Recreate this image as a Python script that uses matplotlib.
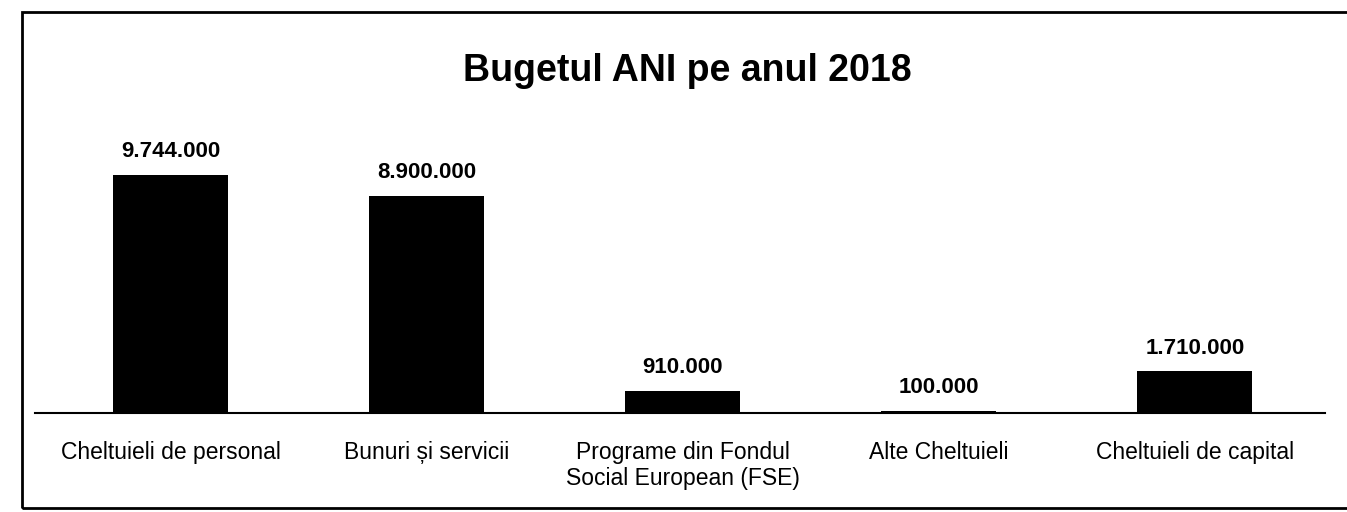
import numpy as np
import matplotlib.pyplot as plt
from matplotlib.patches import Rectangle

categories = ["Cheltuieli de personal", "Bunuri și servicii",
              "Programe din Fondul\nSocial European (FSE)", "Alte Cheltuieli",
              "Cheltuieli de capital"]
values = [9744000, 8900000, 910000, 100000, 1710000]

FONT = ["Liberation Sans Narrow", "Liberation Sans", "DejaVu Sans"]


def fmt(v):
    return f"{v:,}".replace(",", ".")


fig = plt.figure(figsize=(13.47, 5.12), dpi=100)
ax = fig.add_axes([0.026, 0.193, 0.958, 0.535])

x = np.arange(len(categories))
bars = ax.bar(x, values, width=0.45, color="black")

for xi, v in zip(x, values):
    ax.annotate(fmt(v), (xi, v), xytext=(0, 9), textcoords="offset points",
                ha="center", va="bottom", fontsize=16, fontweight="bold",
                family=FONT)

ax.set_xlim(-0.53, 4.51)
ax.set_ylim(0, 11200000)
ax.set_xticks(x)
ax.set_xticklabels(categories, fontsize=16.5, family=FONT, linespacing=1.15)
ax.tick_params(axis="x", length=0, pad=20)
ax.set_yticks([])
for s in ["top", "right", "left"]:
    ax.spines[s].set_visible(False)
ax.spines["bottom"].set_linewidth(1.5)

fig.text(0.51, 0.862, "Bugetul ANI pe anul 2018", ha="center", va="center",
         fontsize=27, fontweight="bold", family=FONT)

# outer frame of the scanned chart
fig.patches.append(Rectangle((0.016, 0.008), 1.2, 0.969, transform=fig.transFigure,
                             fill=False, edgecolor="black", linewidth=2))

fig.savefig("out.png", dpi=100)
